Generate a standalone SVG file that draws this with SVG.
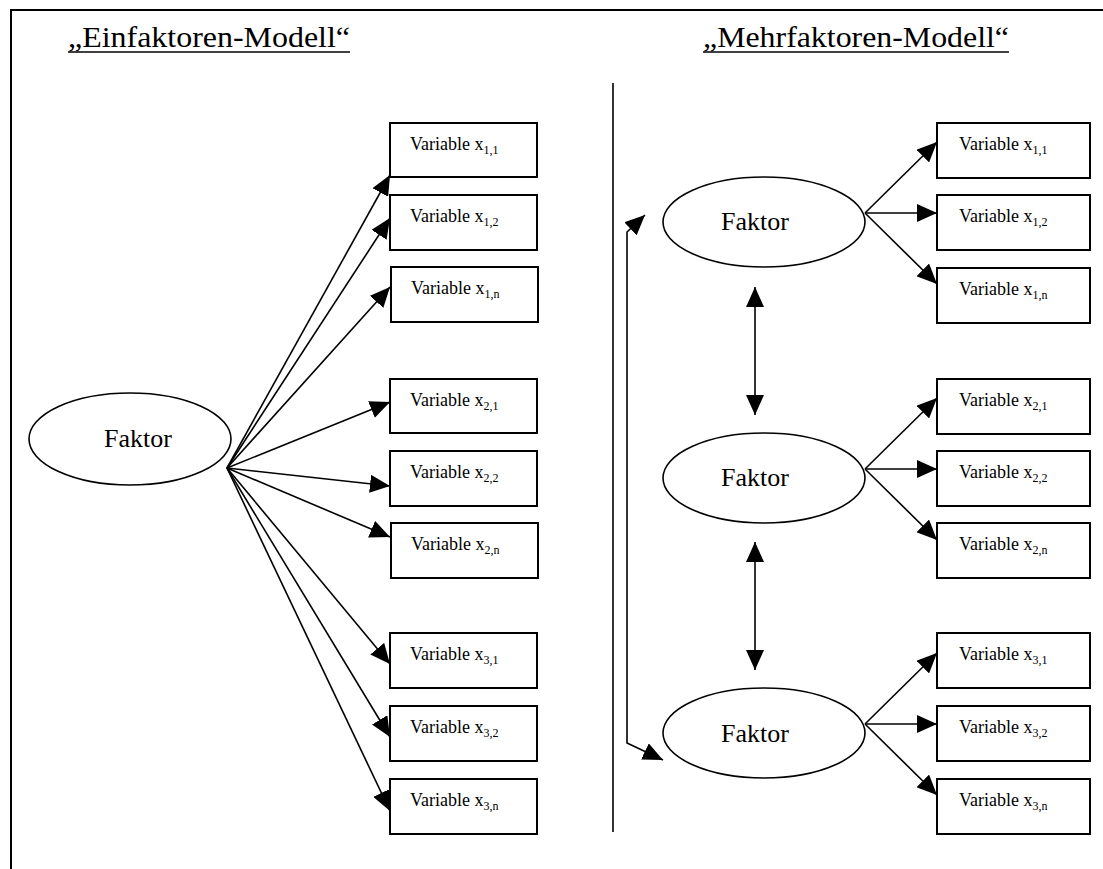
<svg xmlns="http://www.w3.org/2000/svg" width="1103" height="869" viewBox="0 0 1103 869">
<style>
.frame{stroke:#000;stroke-width:2;fill:none}
.box{fill:#fff;stroke:#000;stroke-width:2}
.ell{fill:#fff;stroke:#000;stroke-width:1.6}
.con{stroke:#000;stroke-width:1.6;fill:none}
text{font-family:'Liberation Serif','DejaVu Serif',serif;fill:#000}
.lab{font-size:18px}
.sub{font-size:12px}
.fak{font-size:26px}
.title{font-size:30px}
</style>
<defs>
<marker id="ah" viewBox="0 0 20 18" refX="20" refY="9" markerWidth="20" markerHeight="18" markerUnits="userSpaceOnUse" orient="auto-start-reverse"><path d="M0,0 L20,9 L0,18 z" fill="#000"/></marker>
</defs>
<rect width="1103" height="869" fill="#fff"/>
<path class="frame" d="M11,869 L11,10 L1103,10"/>
<line x1="613" y1="83" x2="613" y2="832" stroke="#000" stroke-width="1.6"/>
<g id="title-left"><text class="title" x="68" y="47" textLength="282" lengthAdjust="spacingAndGlyphs">„Einfaktoren-Modell“</text><line x1="68" y1="52" x2="350" y2="52" stroke="#000" stroke-width="1.5"/></g>
<g id="title-right"><text class="title" x="703" y="47" textLength="306" lengthAdjust="spacingAndGlyphs">„Mehrfaktoren-Modell“</text><line x1="703" y1="52" x2="1009" y2="52" stroke="#000" stroke-width="1.5"/></g>

<g id="connectors">
<line class="con" x1="227" y1="468" x2="390" y2="175" marker-end="url(#ah)"/>
<line class="con" x1="227" y1="468" x2="390" y2="218" marker-end="url(#ah)"/>
<line class="con" x1="227" y1="468" x2="390" y2="287" marker-end="url(#ah)"/>
<line class="con" x1="227" y1="468" x2="390" y2="402" marker-end="url(#ah)"/>
<line class="con" x1="227" y1="468" x2="390" y2="486" marker-end="url(#ah)"/>
<line class="con" x1="227" y1="468" x2="390" y2="537" marker-end="url(#ah)"/>
<line class="con" x1="227" y1="468" x2="390" y2="664" marker-end="url(#ah)"/>
<line class="con" x1="227" y1="468" x2="390" y2="737" marker-end="url(#ah)"/>
<line class="con" x1="227" y1="468" x2="390" y2="811" marker-end="url(#ah)"/>

<line class="con" x1="865" y1="213" x2="937" y2="142" marker-end="url(#ah)"/>
<line class="con" x1="865" y1="213" x2="937" y2="213" marker-end="url(#ah)"/>
<line class="con" x1="865" y1="213" x2="937" y2="284" marker-end="url(#ah)"/>
<line class="con" x1="865" y1="469" x2="937" y2="398" marker-end="url(#ah)"/>
<line class="con" x1="865" y1="469" x2="937" y2="469" marker-end="url(#ah)"/>
<line class="con" x1="865" y1="469" x2="937" y2="540" marker-end="url(#ah)"/>
<line class="con" x1="865" y1="724" x2="937" y2="653" marker-end="url(#ah)"/>
<line class="con" x1="865" y1="724" x2="937" y2="724" marker-end="url(#ah)"/>
<line class="con" x1="865" y1="724" x2="937" y2="795" marker-end="url(#ah)"/>

<line class="con" x1="755" y1="287" x2="755" y2="415" marker-start="url(#ah)" marker-end="url(#ah)"/>
<line class="con" x1="755" y1="542" x2="755" y2="670" marker-start="url(#ah)" marker-end="url(#ah)"/>
<polyline class="con" points="645,215 627,232 627,743 663,760" marker-start="url(#ah)" marker-end="url(#ah)"/>
</g>

<g id="faktor-left"><ellipse class="ell" cx="130" cy="439" rx="101" ry="46"/><text class="fak" x="138" y="447" text-anchor="middle">Faktor</text></g>
<g id="faktor-r1"><ellipse class="ell" cx="764" cy="222" rx="101" ry="45"/><text class="fak" x="755" y="230" text-anchor="middle">Faktor</text></g>
<g id="faktor-r2"><ellipse class="ell" cx="764" cy="478" rx="101" ry="45"/><text class="fak" x="755" y="486" text-anchor="middle">Faktor</text></g>
<g id="faktor-r3"><ellipse class="ell" cx="764" cy="733" rx="101" ry="45"/><text class="fak" x="755" y="742" text-anchor="middle">Faktor</text></g>

<g id="L11"><rect class="box" x="390" y="123" width="147" height="54"/><text class="lab" x="410" y="150">Variable x<tspan class="sub" dy="4">1,1</tspan></text></g>
<g id="L12"><rect class="box" x="390" y="195" width="147" height="55"/><text class="lab" x="410" y="222">Variable x<tspan class="sub" dy="4">1,2</tspan></text></g>
<g id="L1n"><rect class="box" x="391" y="267" width="147" height="55"/><text class="lab" x="411" y="294">Variable x<tspan class="sub" dy="4">1,n</tspan></text></g>
<g id="L21"><rect class="box" x="390" y="379" width="147" height="54"/><text class="lab" x="410" y="406">Variable x<tspan class="sub" dy="4">2,1</tspan></text></g>
<g id="L22"><rect class="box" x="390" y="451" width="147" height="55"/><text class="lab" x="410" y="478">Variable x<tspan class="sub" dy="4">2,2</tspan></text></g>
<g id="L2n"><rect class="box" x="391" y="523" width="147" height="55"/><text class="lab" x="411" y="550">Variable x<tspan class="sub" dy="4">2,n</tspan></text></g>
<g id="L31"><rect class="box" x="390" y="633" width="147" height="55"/><text class="lab" x="410" y="660">Variable x<tspan class="sub" dy="4">3,1</tspan></text></g>
<g id="L32"><rect class="box" x="390" y="706" width="147" height="55"/><text class="lab" x="410" y="733">Variable x<tspan class="sub" dy="4">3,2</tspan></text></g>
<g id="L3n"><rect class="box" x="390" y="779" width="147" height="55"/><text class="lab" x="410" y="806">Variable x<tspan class="sub" dy="4">3,n</tspan></text></g>

<g id="R11"><rect class="box" x="937" y="123" width="153" height="55"/><text class="lab" x="959" y="150">Variable x<tspan class="sub" dy="4">1,1</tspan></text></g>
<g id="R12"><rect class="box" x="937" y="195" width="153" height="55"/><text class="lab" x="959" y="222">Variable x<tspan class="sub" dy="4">1,2</tspan></text></g>
<g id="R1n"><rect class="box" x="937" y="268" width="153" height="55"/><text class="lab" x="959" y="295">Variable x<tspan class="sub" dy="4">1,n</tspan></text></g>
<g id="R21"><rect class="box" x="937" y="379" width="153" height="55"/><text class="lab" x="959" y="406">Variable x<tspan class="sub" dy="4">2,1</tspan></text></g>
<g id="R22"><rect class="box" x="937" y="451" width="153" height="55"/><text class="lab" x="959" y="478">Variable x<tspan class="sub" dy="4">2,2</tspan></text></g>
<g id="R2n"><rect class="box" x="937" y="523" width="153" height="55"/><text class="lab" x="959" y="550">Variable x<tspan class="sub" dy="4">2,n</tspan></text></g>
<g id="R31"><rect class="box" x="937" y="633" width="153" height="55"/><text class="lab" x="959" y="660">Variable x<tspan class="sub" dy="4">3,1</tspan></text></g>
<g id="R32"><rect class="box" x="937" y="706" width="153" height="55"/><text class="lab" x="959" y="733">Variable x<tspan class="sub" dy="4">3,2</tspan></text></g>
<g id="R3n"><rect class="box" x="937" y="779" width="153" height="55"/><text class="lab" x="959" y="806">Variable x<tspan class="sub" dy="4">3,n</tspan></text></g>
</svg>
